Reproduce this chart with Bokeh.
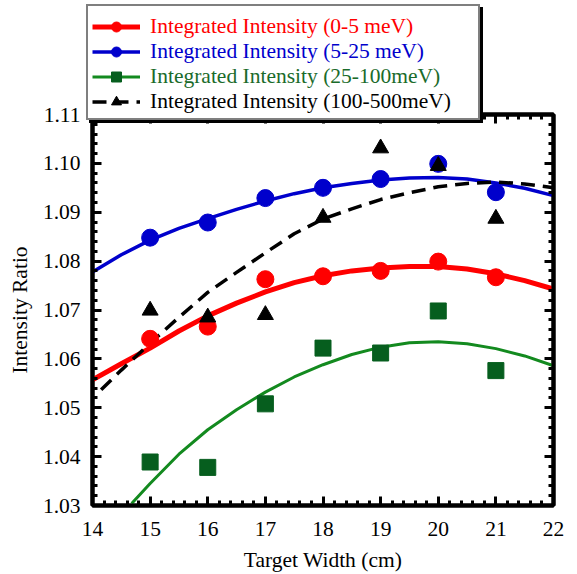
import numpy as np
from bokeh.plotting import figure
from bokeh.models import (LinearAxis, FixedTicker, PrintfTickFormatter, Legend,
                          LegendItem, Range1d, CustomJSTickFormatter)
from bokeh.embed import file_html
from bokeh.resources import INLINE

# ---- data ----
x_pts = [15, 16, 17, 18, 19, 20, 21]
red_pts = [1.0641, 1.0666, 1.0763, 1.0769, 1.0780, 1.0799, 1.0767]
blue_pts = [1.0848, 1.0879, 1.0929, 1.0950, 1.0968, 1.0999, 1.0941]
green_pts = [1.0389, 1.0378, 1.0508, 1.0622, 1.0612, 1.0698, 1.0576]
black_pts = [1.0699, 1.0685, 1.0690, 1.0889, 1.1031, 1.0995, 1.0887]

fit_x = [14, 14.5, 15, 15.5, 16, 16.5, 17, 17.5, 18, 18.5, 19, 19.5, 20, 20.5, 21, 21.5, 22]
red_fit = [1.0557, 1.0590, 1.0622, 1.0657, 1.0688, 1.0714, 1.0737, 1.0756, 1.0770,
           1.0780, 1.0786, 1.0789, 1.0789, 1.0784, 1.0774, 1.0760, 1.0743]
blue_fit = [1.0778, 1.0813, 1.0843, 1.0867, 1.0887, 1.0906, 1.0923, 1.0938, 1.0950,
            1.0959, 1.0966, 1.0970, 1.0971, 1.0968, 1.0960, 1.0949, 1.0934]
green_fit_x = [14.68, 15, 15.5, 16, 16.5, 17, 17.5, 18, 18.5, 19, 19.5, 20, 20.5, 21, 21.5, 22]
green_fit = [1.0304, 1.0345, 1.0405, 1.0455, 1.0496, 1.0532, 1.0563, 1.0588, 1.0609,
             1.0624, 1.0633, 1.0635, 1.0631, 1.0621, 1.0606, 1.0586]
black_fit_x = [14.15, 14.5, 15, 15.5, 16, 16.5, 17, 17.5, 18, 18.5, 19, 19.5, 20, 20.5, 21, 21.5, 22]
black_fit = [1.0537, 1.0577, 1.0632, 1.0685, 1.0736, 1.0777, 1.0817, 1.0856, 1.0886,
             1.0907, 1.0926, 1.0940, 1.0952, 1.0959, 1.0962, 1.0958, 1.0950]

labels = ["Integrated Intensity (0-5 meV)", "Integrated Intensity (5-25 meV)",
          "Integrated Intensity (25-100meV)", "Integrated Intensity (100-500meV)"]
x_ticks = [14, 15, 16, 17, 18, 19, 20, 21, 22]
y_ticks = [1.03, 1.04, 1.05, 1.06, 1.07, 1.08, 1.09, 1.10, 1.11]

# ---- styles ----
RED = "#ff0000"
BLUE = "#0000cc"
GREEN_M = "#065e1e"
GREEN_L = "#138a1f"
GREEN_T = "#1a6b2a"
BLACK = "#000000"
FONT = "Liberation Serif"
FS = "21.5px"
W, H = 577, 574

line_styles = [dict(line_color=RED, line_width=5),
               dict(line_color=BLUE, line_width=3.5),
               dict(line_color=GREEN_L, line_width=3),
               dict(line_color=BLACK, line_width=3.5, line_dash="14 8")]
marker_styles = [dict(marker="circle", size=17, fill_color=RED, line_color=RED),
                 dict(marker="circle", size=17, fill_color=BLUE, line_color=BLUE),
                 dict(marker="square", size=16, fill_color=GREEN_M, line_color=GREEN_M),
                 dict(marker="triangle", size=16, fill_color=BLACK, line_color=BLACK)]
text_colors = [RED, BLUE, GREEN_T, BLACK]

# ================= main plot =================
p = figure(width=W, height=H, output_backend="svg", toolbar_location=None,
           x_range=Range1d(14, 22), y_range=Range1d(1.03, 1.11),
           min_border_left=92, min_border_right=24, min_border_top=114,
           min_border_bottom=68)
p.styles = {"position": "absolute", "left": "0px", "top": "0px"}
p.xgrid.visible = False
p.ygrid.visible = False
p.outline_line_color = "black"
p.outline_line_width = 4
p.background_fill_color = "white"
p.border_fill_color = "white"

x_minor = [round(v, 2) for v in np.arange(14, 22.001, 0.2)]
y_minor = [round(v, 3) for v in np.arange(1.03, 1.1101, 0.002)]
xt = FixedTicker(ticks=x_ticks, minor_ticks=x_minor)
yt = FixedTicker(ticks=y_ticks, minor_ticks=y_minor)


def style_axis(ax, show):
    ax.axis_line_width = 4
    ax.axis_line_color = "black"
    ax.major_tick_in = 9
    ax.major_tick_out = 0
    ax.minor_tick_in = 5
    ax.minor_tick_out = 0
    ax.major_tick_line_width = 3
    ax.minor_tick_line_width = 3
    ax.major_label_text_font = FONT
    ax.axis_label_text_font = FONT
    ax.axis_label_text_font_style = "normal"
    ax.axis_label_text_font_size = FS
    ax.axis_label_text_color = "black"
    ax.major_label_text_color = "black"
    if show:
        ax.major_label_text_font_size = FS
    else:
        ax.formatter = CustomJSTickFormatter(code="return ''")
        ax.major_label_text_font_size = "1px"
        ax.major_label_standoff = 0


p.xaxis.ticker = xt
p.yaxis.ticker = yt
p.yaxis.formatter = PrintfTickFormatter(format="%.2f")
p.xaxis.axis_label = "Target Width (cm)"
p.yaxis.axis_label = "Intensity Ratio"
style_axis(p.xaxis[0], True)
style_axis(p.yaxis[0], True)
p.xaxis.major_label_standoff = 16
p.xaxis.axis_label_standoff = 9
p.yaxis.major_label_standoff = 12
p.yaxis.axis_label_standoff = 8

ax_top = LinearAxis(ticker=xt)
style_axis(ax_top, False)
p.add_layout(ax_top, "above")
ax_right = LinearAxis(ticker=yt)
style_axis(ax_right, False)
p.add_layout(ax_right, "right")

# fit lines
p.line(fit_x, red_fit, **line_styles[0])
p.line(fit_x, blue_fit, **line_styles[1])
p.line(green_fit_x, green_fit, **line_styles[2])
p.line(black_fit_x, black_fit, **line_styles[3])

# markers
p.scatter(x_pts, red_pts, **marker_styles[0])
p.scatter(x_pts, blue_pts, **marker_styles[1])
p.scatter(x_pts, green_pts, **marker_styles[2])
p.scatter(x_pts, black_pts, **marker_styles[3])

# ================= legend overlay (transparent figure on top) =================
LH = 128
pl = figure(width=W, height=LH, output_backend="svg", toolbar_location=None,
            x_axis_type=None, y_axis_type=None, x_range=Range1d(0, 1), y_range=Range1d(0, 1),
            min_border_left=0, min_border_right=0, min_border_top=0, min_border_bottom=0)
pl.styles = {"position": "absolute", "left": "0px", "top": "0px", "z-index": "10"}
pl.outline_line_color = None
pl.xgrid.visible = False
pl.ygrid.visible = False
pl.background_fill_alpha = 0
pl.border_fill_alpha = 0

leg_rend = []
for i in range(4):
    lr = pl.line([np.nan], [np.nan], **line_styles[i])
    mr = pl.scatter([np.nan], [np.nan], **marker_styles[i])
    leg_rend.append([lr, mr])

common = dict(glyph_width=48, glyph_height=25, label_height=25, label_standoff=10,
              padding=6, spacing=0, label_text_font=FONT, label_text_font_size=FS,
              margin=0)
BOX_X = 86
BOX_VY = 8
shadow = Legend(items=[LegendItem(label=" ", renderers=[]) for _ in labels],
                location=(BOX_X + 3, BOX_VY - 3), background_fill_color="black",
                background_fill_alpha=1, border_line_color="black", border_line_width=2,
                label_text_alpha=0, label_width=320, **common)
box = Legend(items=[LegendItem(label=" ", renderers=[]) for _ in labels],
             location=(BOX_X, BOX_VY), background_fill_color="white", background_fill_alpha=1,
             border_line_color="black", border_line_width=2.5, label_text_alpha=0,
             label_width=320, **common)
pl.add_layout(shadow, "center")
pl.add_layout(box, "center")
for i in range(4):
    lg = Legend(items=[LegendItem(label=labels[i], renderers=leg_rend[i])],
                location=(BOX_X, 83 - 25 * i), background_fill_alpha=0,
                border_line_alpha=0, label_text_color=text_colors[i], label_width=320,
                **common)
    pl.add_layout(lg, "center")

open("out.html", "w").write(file_html([p, pl], INLINE))
